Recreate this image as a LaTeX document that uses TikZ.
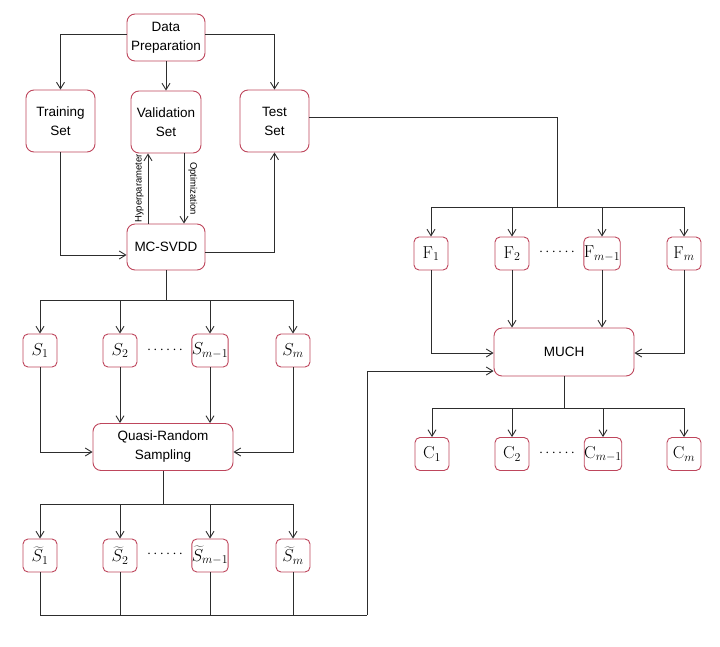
\documentclass[tikz,border=0pt]{standalone}
\usepackage[no-math]{fontspec}
\setmainfont{Liberation Sans}
\usetikzlibrary{arrows.meta}
\definecolor{boxred}{RGB}{190,70,92}
\definecolor{linegray}{RGB}{45,45,45}
\begin{document}
\begin{tikzpicture}[x=1pt,y=-1pt,
  bigbox/.style={draw=boxred,line width=0.9pt,rounded corners=8pt,fill=white,align=center,
     font=\fontsize{13.5}{19}\selectfont,inner sep=2pt},
  smallbox/.style={draw=boxred,line width=0.9pt,rounded corners=5pt,fill=white,
     minimum width=34pt,minimum height=33pt,inner sep=0pt,font=\fontsize{17}{19}\selectfont},
  conn/.style={draw=linegray,line width=0.9pt},
  arr/.style={conn,-{Straight Barb[length=6.5pt,width=8pt,line width=0.9pt]}},
  dots/.style={font=\fontsize{15}{17}\selectfont},
  rot/.style={font=\fontsize{9.5}{11}\selectfont}
]
\useasboundingbox (0,0) rectangle (720,646);

% top part
\node[bigbox,minimum width=78pt,minimum height=47pt] (dp) at (166,37.5) {Data\\Preparation};
\node[bigbox,minimum width=69pt,minimum height=62pt] (tr) at (60.5,121) {Training\\Set};
\node[bigbox,minimum width=70pt,minimum height=62pt] (va) at (166,122) {Validation\\Set};
\node[bigbox,minimum width=69pt,minimum height=62pt] (te) at (274.5,121) {Test\\Set};
\node[bigbox,minimum width=78pt,minimum height=46pt] (mc) at (166,247) {MC-SVDD};

\draw[arr] ([yshift=3.5pt]dp.west) -| (tr.north);
\draw[arr] ([yshift=3.5pt]dp.east) -| (te.north);
\draw[arr] (dp.south) -- (va.north);
\draw[arr] (tr.south) |- ([yshift=-8pt]mc.west);
\draw[arr] ([yshift=-5pt]mc.east) -| (te.south);
\draw[arr] ([xshift=-18pt]mc.north) -- ([xshift=-18pt]va.south)
  node[midway,rotate=90,rot,above=0.5pt] (hp) {Hyperparameter};
\draw[arr] ([xshift=18pt]va.south) -- ([xshift=18pt]mc.north)
  node[midway,rotate=-90,rot,above=0.5pt] (op) {Optimization};

% S row
\coordinate (b1) at (166,300);
\draw[conn] (mc.south) -- (b1);
\node[smallbox] (s1) at (40,350.5) {$S_1$};
\node[smallbox] (s2) at (120,350.5) {$S_2$};
\node[smallbox] (s3) at (210,350.5) {$S_{m-1}$};
\node[smallbox] (s4) at (293,350.5) {$S_m$};
\node[dots] (d1) at (165,350) {$\cdots\cdots$};
\foreach \n in {s1,s2,s3,s4} \draw[arr] (b1) -| (\n.north);

\node[bigbox,minimum width=140pt,minimum height=47pt] (qr) at (163,447) {Quasi-Random\\Sampling};
\draw[arr] (s1.south) |- ([yshift=-5pt]qr.west);
\draw[arr] (s4.south) |- ([yshift=-5pt]qr.east);
\draw[arr] (s2.south) -- (s2.south |- qr.north);
\draw[arr] (s3.south) -- (s3.south |- qr.north);

% S tilde row
\coordinate (b2) at (163,504);
\draw[conn] (qr.south) -- (b2);
\node[smallbox] (t1) at (40,555.5) {$\widetilde{S}_1$};
\node[smallbox] (t2) at (120,555.5) {$\widetilde{S}_2$};
\node[smallbox] (t3) at (210,555.5) {$\widetilde{S}_{m-1}$};
\node[smallbox] (t4) at (293,555.5) {$\widetilde{S}_m$};
\node[dots] (d2) at (165,554) {$\cdots\cdots$};
\foreach \n in {t1,t2,t3,t4} \draw[arr] (b2) -| (\n.north);

% right part
\coordinate (b4) at (557,207);
\draw[conn] ([yshift=4pt]te.east) -| (b4);
\node[smallbox] (f1) at (431,253.5) {$\mathrm{F}_1$};
\node[smallbox] (f2) at (512,253.5) {$\mathrm{F}_2$};
\node[smallbox] (f3) at (602,253.5) {$\mathrm{F}_{m-1}$};
\node[smallbox] (f4) at (684,253.5) {$\mathrm{F}_m$};
\node[dots] (d3) at (557,252) {$\cdots\cdots$};
\foreach \n in {f1,f2,f3,f4} \draw[arr] (b4) -| (\n.north);

\node[bigbox,minimum width=140pt,minimum height=48pt] (mu) at (564,352) {MUCH};
\draw[arr] (f1.south) |- ([yshift=-1pt]mu.west);
\draw[arr] (f4.south) |- ([yshift=-1pt]mu.east);
\draw[arr] (f2.south) -- (f2.south |- mu.north);
\draw[arr] (f3.south) -- (f3.south |- mu.north);

\coordinate (b3) at (367,615);
\draw[conn] (t1.south) |- (b3);
\foreach \n in {t2,t3,t4} \draw[conn] (\n.south) -- (\n.south |- b3);
\draw[arr] (b3) |- ([yshift=-19pt]mu.west);

\coordinate (b5) at (564,408);
\draw[conn] (mu.south) -- (b5);
\node[smallbox] (c1) at (432,454) {$\mathrm{C}_1$};
\node[smallbox] (c2) at (512,454) {$\mathrm{C}_2$};
\node[smallbox] (c3) at (603,454) {$\mathrm{C}_{m-1}$};
\node[smallbox] (c4) at (684,454) {$\mathrm{C}_m$};
\node[dots] (d4) at (557,453) {$\cdots\cdots$};
\foreach \n in {c1,c2,c3,c4} \draw[arr] (b5) -| (\n.north);
\end{tikzpicture}
\end{document}
